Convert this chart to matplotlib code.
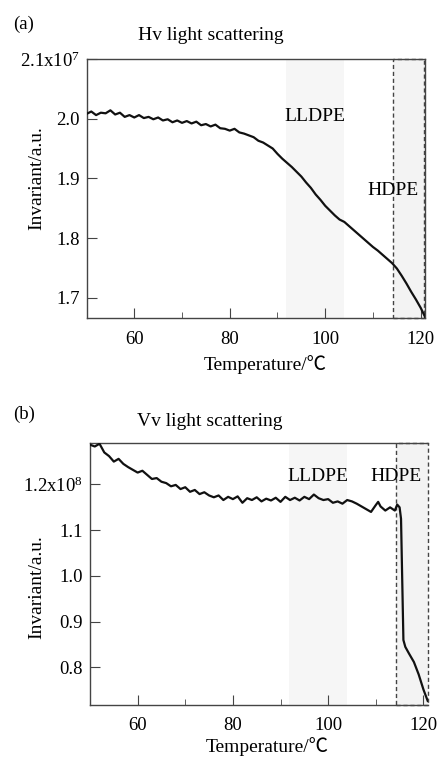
import matplotlib
matplotlib.use("Agg")
import matplotlib.pyplot as plt
from matplotlib.patches import Rectangle
from matplotlib.ticker import MultipleLocator

plt.rcParams['font.family'] = ['Liberation Serif', 'Noto Sans CJK JP', 'DejaVu Sans']
plt.rcParams['mathtext.fontset'] = 'custom'
plt.rcParams['mathtext.rm'] = 'Liberation Serif'
plt.rcParams['mathtext.it'] = 'Liberation Serif'

# ---- data (a) Hv light scattering, invariant in units of 1e7 ----
temp_a = [50, 51, 52, 53, 54, 55, 56, 57, 58, 59, 60, 61, 62, 63, 64, 65, 66, 67, 68, 69,
          70, 71, 72, 73, 74, 75, 76, 77, 78, 79, 80, 81, 82, 83, 84, 85, 86, 87, 88, 89,
          90, 91, 92, 93, 94, 95, 96, 97, 98, 99, 100, 101, 102, 103, 104, 105, 106, 107,
          108, 109, 110, 111, 112, 113, 114, 115, 116, 117, 118, 119, 120, 120.9]
hv = [2.008, 2.012, 2.006, 2.010, 2.009, 2.014, 2.007, 2.010, 2.003, 2.006, 2.002, 2.006,
      2.001, 2.003, 1.999, 2.002, 1.997, 1.999, 1.994, 1.997, 1.993, 1.996, 1.992, 1.995,
      1.989, 1.991, 1.987, 1.990, 1.984, 1.983, 1.980, 1.983, 1.977, 1.975, 1.972, 1.969,
      1.963, 1.960, 1.955, 1.950, 1.941, 1.933, 1.926, 1.919, 1.911, 1.903, 1.893, 1.884,
      1.873, 1.864, 1.854, 1.846, 1.838, 1.831, 1.827, 1.820, 1.813, 1.806, 1.799, 1.792,
      1.785, 1.779, 1.772, 1.765, 1.758, 1.749, 1.737, 1.724, 1.710, 1.697, 1.683, 1.668]

# ---- data (b) Vv light scattering, invariant in units of 1e8 ----
temp_b = [50, 51, 52, 53, 54, 55, 56, 57, 58, 59, 60, 61, 62, 63, 64, 65, 66, 67, 68, 69,
          70, 71, 72, 73, 74, 75, 76, 77, 78, 79, 80, 81, 82, 83, 84, 85, 86, 87, 88, 89,
          90, 91, 92, 93, 94, 95, 96, 97, 98, 99, 100, 101, 102, 103, 104, 105, 106, 107,
          108, 109, 110, 110.5, 111, 112, 113, 114, 114.5, 115, 115.3, 115.8, 116.2, 117,
          118, 119, 120, 120.9]
vv = [1.287, 1.283, 1.289, 1.270, 1.262, 1.250, 1.256, 1.245, 1.238, 1.232, 1.226, 1.230,
      1.221, 1.212, 1.214, 1.206, 1.203, 1.196, 1.199, 1.190, 1.194, 1.184, 1.188, 1.179,
      1.183, 1.176, 1.172, 1.176, 1.166, 1.173, 1.168, 1.174, 1.160, 1.170, 1.166, 1.172,
      1.163, 1.169, 1.165, 1.171, 1.162, 1.173, 1.166, 1.171, 1.165, 1.173, 1.168, 1.178,
      1.170, 1.166, 1.168, 1.160, 1.163, 1.158, 1.166, 1.163, 1.158, 1.152, 1.146, 1.140,
      1.155, 1.162, 1.152, 1.143, 1.150, 1.143, 1.156, 1.150, 1.125, 0.860, 0.845, 0.830,
      0.812, 0.785, 0.752, 0.727]

lldpe_range = (91.7, 104.0)
hdpe_range = (114.3, 120.8)

yticks_a = [1.7, 1.8, 1.9, 2.0, 2.1]
yticklabels_a = ['1.7', '1.8', '1.9', '2.0', r'2.1x10$^{7}$']
yticks_b = [0.8, 0.9, 1.0, 1.1, 1.2]
yticklabels_b = ['0.8', '0.9', '1.0', '1.1', r'1.2x10$^{8}$']
xticks = [60, 80, 100, 120]

W, H = 438, 761
fig = plt.figure(figsize=(W / 100, H / 100), dpi=100)

def fx(px):
    return px / W

def fy(py):
    return 1 - py / H

FS = 13.5
FT = 14
spine_col = '#444444'

def make_panel(rect, t, y, xlim, ylim, yticks, yticklabels, lld_y, hd_y, hdpe_box_right):
    ax = fig.add_axes(rect)
    ax.axvspan(lldpe_range[0], lldpe_range[1], color='#f6f6f6', lw=0, zorder=0)
    ax.add_patch(Rectangle((hdpe_range[0], ylim[0]), hdpe_box_right - hdpe_range[0],
                           ylim[1] - ylim[0], facecolor='#f3f3f3', edgecolor='#444444',
                           lw=1.0, ls=(0, (3, 2)), zorder=1, clip_on=False))
    ax.plot(t, y, color='#111111', lw=1.6, zorder=3)
    ax.set_xlim(*xlim)
    ax.set_ylim(*ylim)
    ax.set_xticks(xticks)
    ax.xaxis.set_minor_locator(MultipleLocator(10))
    ax.set_yticks(yticks)
    ax.set_yticklabels(yticklabels)
    ax.tick_params(axis='both', which='both', direction='in', labelsize=FS,
                   color=spine_col, top=False, right=False)
    ax.tick_params(axis='x', which='major', length=7, pad=9)
    ax.tick_params(axis='x', which='minor', length=4)
    ax.tick_params(axis='y', which='major', length=7, pad=5)
    for s in ax.spines.values():
        s.set_color(spine_col)
        s.set_linewidth(1.0)
    ax.text((lldpe_range[0] + lldpe_range[1]) / 2, lld_y, 'LLDPE', ha='center',
            va='center', fontsize=FT, zorder=4)
    ax.text(hdpe_range[0], hd_y, 'HDPE', ha='center', va='center', fontsize=FT, zorder=4)
    return ax

ax1 = make_panel([fx(87), fy(318), fx(425) - fx(87), fy(59) - fy(318)],
                 temp_a, hv, (50.1, 120.9), (1.666, 2.1), yticks_a, yticklabels_a,
                 2.004, 1.879, 120.75)
ax2 = make_panel([fx(90), fy(705), fx(427.7) - fx(90), fy(443.3) - fy(705)],
                 temp_b, vv, (50.0, 120.9), (0.718, 1.29), yticks_b, yticklabels_b,
                 1.217, 1.217, 120.9)
ax2.spines['right'].set_visible(False)

# titles, panel labels, axis labels
fig.text(fx(13), fy(24), '(a)', fontsize=FS, ha='left', va='center')
fig.text(fx(211), fy(35), 'Hv light scattering', fontsize=FT, ha='center', va='center')
fig.text(fx(37), fy(178), 'Invariant/a.u.', fontsize=FT, ha='center', va='center', rotation=90)
fig.text(fx(265), fy(365), 'Temperature/℃', fontsize=FT, ha='center', va='center')

fig.text(fx(13), fy(414), '(b)', fontsize=FS, ha='left', va='center')
fig.text(fx(210), fy(421), 'Vv light scattering', fontsize=FT, ha='center', va='center')
fig.text(fx(37), fy(587), 'Invariant/a.u.', fontsize=FT, ha='center', va='center', rotation=90)
fig.text(fx(267), fy(747), 'Temperature/℃', fontsize=FT, ha='center', va='center')

fig.savefig('out.png', dpi=100)
